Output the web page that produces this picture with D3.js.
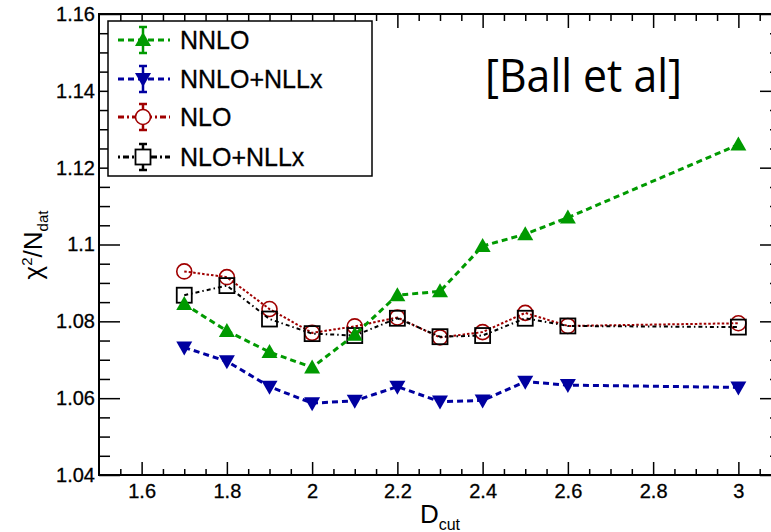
<!DOCTYPE html>
<html>
<head>
<meta charset="utf-8">
<script src="https://cdn.jsdelivr.net/npm/d3@7"></script>
<style>
  body { margin: 0; background: #fff; }
  svg { display: block; font-family: "Liberation Sans", Arial, sans-serif; }
</style>
</head>
<body>
<div id="chart"></div>
<script>
/*
    DATA
*/
let dcut = [1.7, 1.8, 1.9, 2.0, 2.1, 2.2, 2.3, 2.4, 2.5, 2.6, 3.0];

let nnlo      = [1.0845, 1.0775, 1.0720, 1.0680, 1.0765, 1.0868, 1.0878, 1.0996, 1.1027, 1.1070, 1.1260];
let nnloNllx  = [1.0732, 1.0696, 1.0630, 1.0587, 1.0593, 1.0630, 1.0591, 1.0594, 1.0643, 1.0634, 1.0628];
let nlo       = [1.0930, 1.0915, 1.0832, 1.0770, 1.0787, 1.0810, 1.0758, 1.0772, 1.0822, 1.0788, 1.0795];
let nloNllx   = [1.0868, 1.0893, 1.0806, 1.0768, 1.0763, 1.0808, 1.0760, 1.0763, 1.0808, 1.0788, 1.0785];

let seriesNames = ["NNLO", "NNLO+NLLx", "NLO", "NLO+NLLx"];

let xTicks = [1.6, 1.8, 2.0, 2.2, 2.4, 2.6, 2.8, 3.0];
let xTickLabels = ["1.6", "1.8", "2", "2.2", "2.4", "2.6", "2.8", "3"];
let yTicks = [1.04, 1.06, 1.08, 1.10, 1.12, 1.14, 1.16];
let yTickLabels = ["1.04", "1.06", "1.08", "1.1", "1.12", "1.14", "1.16"];

/*
    LAYOUT
*/
let SIZE = { width: 771, height: 532 };
let FRAME = { left: 99, top: 14, right: 781, bottom: 475 };

let STYLES = [
    { color: "#009a00", dash: "6,4", width: 3, marker: "up" },
    { color: "#0000a0", dash: "6,4", width: 3, marker: "down" },
    { color: "#a00000", dash: "2.5,2", width: 2, marker: "circle" },
    { color: "#000000", dash: "4,3,1.5,3", width: 2, marker: "square" }
];
let LEGEND_DASH = ["6,4", "6,4", "6,3,2,3", "2,3,6,3"];

var svg = d3.select("#chart")
    .append("svg")
    .attr("width", SIZE.width)
    .attr("height", SIZE.height);

var x = d3.scaleLinear().domain([1.5, 3.1]).range([FRAME.left, FRAME.right]);
var y = d3.scaleLinear().domain([1.04, 1.16]).range([FRAME.bottom, FRAME.top]);

var xMinor = d3.range(1.55, 3.1, 0.05).filter(v => !xTicks.some(t => Math.abs(t - v) < 1e-6));
var yMinor = d3.range(1.045, 1.16, 0.005).filter(v => !yTicks.some(t => Math.abs(t - v) < 1e-6));

/*
    AXES
*/
function styleAxis(g) {
    g.select(".domain").remove();
    g.selectAll("line").attr("stroke", "#000").attr("stroke-width", 1.5);
    g.selectAll("text").attr("fill", "#000").style("font-size", "20px")
        .attr("stroke", "#000").attr("stroke-width", 0.3);
}

var fmtX = v => xTickLabels[xTicks.findIndex(t => Math.abs(t - v) < 1e-6)];
var fmtY = v => yTickLabels[yTicks.findIndex(t => Math.abs(t - v) < 1e-6)];

// bottom
svg.append("g").attr("transform", `translate(0,${FRAME.bottom})`)
    .call(d3.axisBottom(x).tickValues(xTicks).tickSize(-13).tickPadding(9).tickFormat(fmtX)).call(styleAxis);
svg.append("g").attr("transform", `translate(0,${FRAME.bottom})`)
    .call(d3.axisBottom(x).tickValues(xMinor).tickSize(-6).tickFormat("")).call(styleAxis);
// top
svg.append("g").attr("transform", `translate(0,${FRAME.top})`)
    .call(d3.axisTop(x).tickValues(xTicks).tickSize(-14).tickFormat("")).call(styleAxis);
svg.append("g").attr("transform", `translate(0,${FRAME.top})`)
    .call(d3.axisTop(x).tickValues(xMinor).tickSize(-7).tickFormat("")).call(styleAxis);
// left
svg.append("g").attr("transform", `translate(${FRAME.left},0)`)
    .call(d3.axisLeft(y).tickValues(yTicks).tickSize(-21).tickPadding(4).tickFormat(fmtY)).call(styleAxis);
svg.append("g").attr("transform", `translate(${FRAME.left},0)`)
    .call(d3.axisLeft(y).tickValues(yMinor).tickSize(-11).tickFormat("")).call(styleAxis);
// right
svg.append("g").attr("transform", `translate(${FRAME.right},0)`)
    .call(d3.axisRight(y).tickValues(yTicks).tickSize(-21).tickFormat("")).call(styleAxis);
svg.append("g").attr("transform", `translate(${FRAME.right},0)`)
    .call(d3.axisRight(y).tickValues(yMinor).tickSize(-11).tickFormat("")).call(styleAxis);

svg.append("rect")
    .attr("x", FRAME.left).attr("y", FRAME.top)
    .attr("width", FRAME.right - FRAME.left).attr("height", FRAME.bottom - FRAME.top)
    .attr("fill", "none").attr("stroke", "#000").attr("stroke-width", 2);

// axis titles
var xt = svg.append("text").attr("x", 440).attr("y", 523).attr("text-anchor", "middle").attr("fill", "#000");
xt.append("tspan").style("font-size", "26px").text("D");
xt.append("tspan").style("font-size", "16px").attr("dy", 7).text("cut");

var yt = svg.append("text")
    .attr("transform", "translate(42,245) rotate(-90)")
    .attr("text-anchor", "middle").attr("fill", "#000").style("font-size", "26px");
yt.append("tspan").text("\u03c7");
yt.append("tspan").style("font-size", "15px").attr("dy", -10).text("2");
yt.append("tspan").attr("dy", 10).text("/N");
yt.append("tspan").style("font-size", "15px").attr("dy", 6).text("dat");

/*
    MARKERS
*/
function drawMarker(g, type, color, cx, cy) {
    if (type == "up") {
        g.append("path").attr("d", `M${cx},${cy - 8} L${cx + 8},${cy + 6} L${cx - 8},${cy + 6} Z`).attr("fill", color);
    } else if (type == "down") {
        g.append("path").attr("d", `M${cx},${cy + 8} L${cx + 8},${cy - 6} L${cx - 8},${cy - 6} Z`).attr("fill", color);
    } else if (type == "circle") {
        g.append("circle").attr("cx", cx).attr("cy", cy).attr("r", 7.5)
            .attr("fill", "none").attr("stroke", color).attr("stroke-width", 1.6);
    } else {
        g.append("rect").attr("x", cx - 7.5).attr("y", cy - 7.5).attr("width", 15).attr("height", 15)
            .attr("fill", "none").attr("stroke", color).attr("stroke-width", 1.8);
    }
}

var allSeries = [nnlo, nnloNllx, nlo, nloNllx];
var drawOrder = [2, 3, 1, 0];

var line = d3.line().x(d => x(d[0])).y(d => y(d[1]));

drawOrder.forEach(function (s) {
    var st = STYLES[s];
    var pts = dcut.map((d, i) => [d, allSeries[s][i]]);
    var g = svg.append("g");
    g.append("path")
        .attr("d", line(pts))
        .attr("fill", "none")
        .attr("stroke", st.color)
        .attr("stroke-width", st.width)
        .attr("stroke-dasharray", st.dash);
    pts.forEach(p => drawMarker(g, st.marker, st.color, x(p[0]), y(p[1])));
});

/*
    LEGEND
*/
var legend = svg.append("g");
legend.append("rect")
    .attr("x", 108).attr("y", 21).attr("width", 264).attr("height", 155)
    .attr("fill", "#fff").attr("stroke", "#000").attr("stroke-width", 1.5);

var legendRows = [40, 79, 117, 157];
seriesNames.forEach(function (name, i) {
    var st = STYLES[i];
    var cy = legendRows[i];
    legend.append("line")
        .attr("x1", 118).attr("x2", 170).attr("y1", cy).attr("y2", cy)
        .attr("stroke", st.color).attr("stroke-width", 3)
        .attr("stroke-dasharray", LEGEND_DASH[i]);
    // error bar
    legend.append("line").attr("x1", 143).attr("x2", 143).attr("y1", cy - 13).attr("y2", cy + 13)
        .attr("stroke", st.color).attr("stroke-width", 2.5);
    [cy - 13, cy + 13].forEach(yy => legend.append("line")
        .attr("x1", 139).attr("x2", 147).attr("y1", yy).attr("y2", yy)
        .attr("stroke", st.color).attr("stroke-width", 2.5));
    if (st.marker == "circle" || st.marker == "square") {
        // hollow markers hide the bar behind them
        legend.append(st.marker == "circle" ? "circle" : "rect")
            .attr(st.marker == "circle" ? "cx" : "x", st.marker == "circle" ? 143 : 135.5)
            .attr(st.marker == "circle" ? "cy" : "y", st.marker == "circle" ? cy : cy - 7.5)
            .attr("r", 7.5).attr("width", 15).attr("height", 15)
            .attr("fill", "#fff");
    }
    drawMarker(legend, st.marker, st.color, 143, cy);
    legend.append("text")
        .attr("x", 180).attr("y", cy + 9)
        .attr("fill", "#000").attr("stroke", "#000").attr("stroke-width", 0.3)
        .style("font-size", "25px")
        .text(name);
});

svg.append("text")
    .attr("x", 485).attr("y", 92)
    .attr("textLength", 197).attr("lengthAdjust", "spacingAndGlyphs")
    .style("font-family", "'Open Sans', sans-serif").style("font-size", "45px")
    .attr("fill", "#000")
    .text("[Ball et al]");
</script>
</body>
</html>
